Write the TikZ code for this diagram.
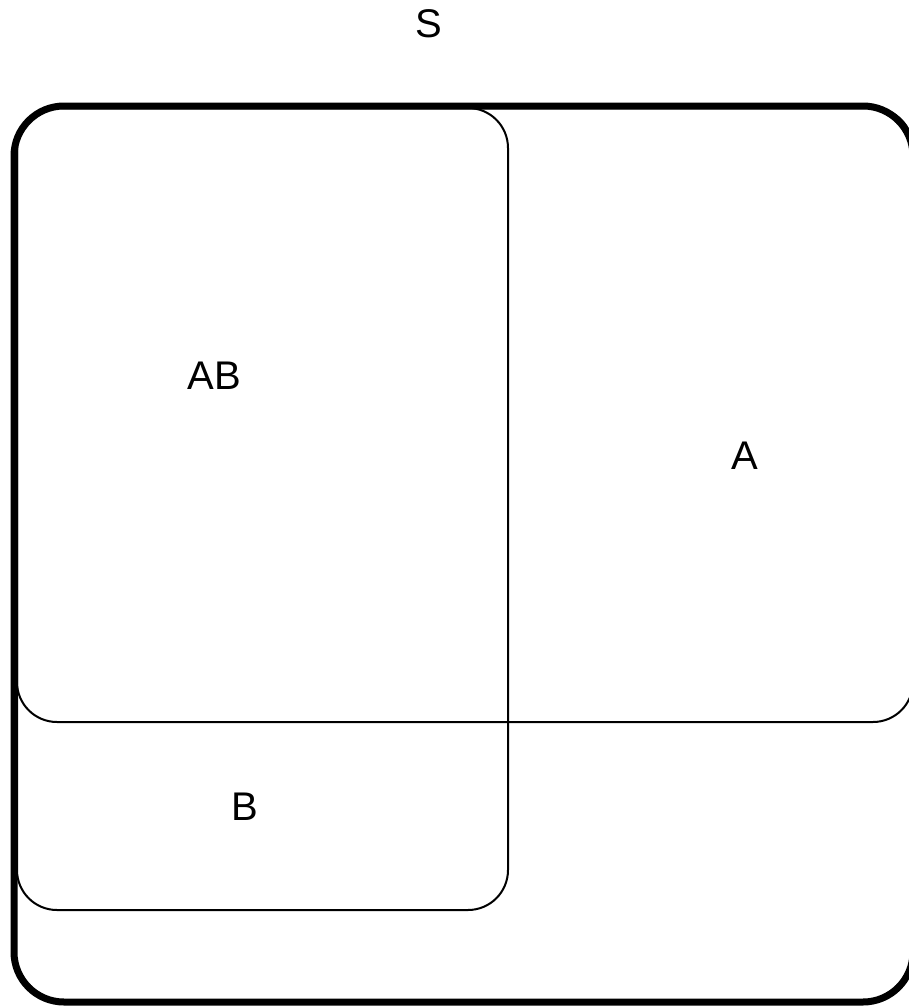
\documentclass[tikz,border=0pt]{standalone}
\usepackage{fontspec}
\setmainfont{Liberation Sans}
\usepackage{tikz}
\usetikzlibrary{positioning}

\tikzset{
  setbox/.style={line width=1.5pt, rounded corners=30pt},
  setlabel/.style={font=\fontsize{30}{36}\selectfont, inner sep=0pt}
}

\begin{document}
\begin{tikzpicture}[x=0.75pt, y=-0.75pt]
  \useasboundingbox (0,0) rectangle (908,1006);
  % sample space
  \draw[line width=5.25pt, rounded corners=37.5pt] (14,106) rectangle (913,1002);
  % events
  \draw[setbox] (17,108) rectangle (913,722);
  \draw[setbox] (17,108) rectangle (508,910);
  \node[setlabel] (s)  at (429,24)  {S};
  \node[setlabel] (ab) at (214,376) {AB};
  \node[setlabel] (a)  at (745,456) {A};
  \node[setlabel] (b)  at (245,807) {B};
\end{tikzpicture}
\end{document}
